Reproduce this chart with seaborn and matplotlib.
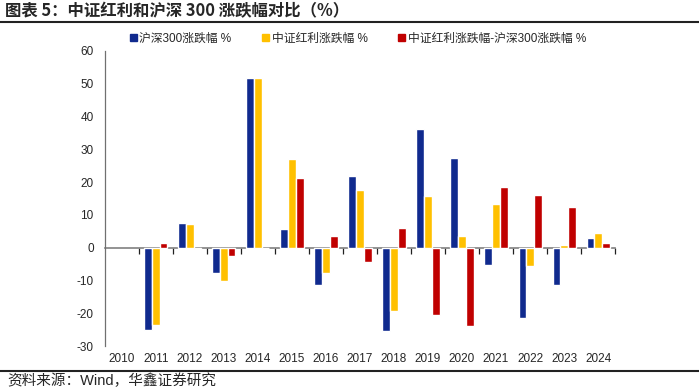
"""
中证红利 vs 沪深300 annual returns, grouped bar chart
"""

import pandas as pd
import matplotlib.pyplot as plt
import seaborn as sns
from matplotlib.lines import Line2D

years = [str(y) for y in range(2010, 2025)]
data_years = years[1:]  # 2010 has no bars

hs300 = [-25.0, 7.6, -7.6, 51.7, 5.6, -11.3, 21.8, -25.4, 36.1, 27.2, -5.2, -21.6, -11.4, 3.1]
csi_div = [-23.6, 7.1, -10.2, 51.7, 26.9, -7.6, 17.6, -19.3, 15.8, 3.5, 13.4, -5.5, 0.9, 4.6]
diff = [1.4, -0.5, -2.4, 0.0, 21.3, 3.7, -4.3, 6.0, -20.4, -23.8, 18.6, 16.2, 12.4, 1.4]

series_names = ['沪深300涨跌幅 %', '中证红利涨跌幅 %', '中证红利涨跌幅-沪深300涨跌幅 %']
colors = ['#102A8E', '#FFC000', '#C00000']

title = '图表 5：中证红利和沪深 300 涨跌幅对比（%）'
source = '资料来源：Wind，华鑫证券研究'

df = pd.DataFrame({
    'year': data_years * 3,
    'value': hs300 + csi_div + diff,
    'series': [s for s in series_names for _ in data_years],
})

sns.set_style('white')
plt.rcParams['font.family'] = ['Liberation Sans', 'Noto Sans CJK SC', 'DejaVu Sans']
plt.rcParams['axes.unicode_minus'] = False

fig = plt.figure(figsize=(6.99, 3.89), dpi=100)
ax = fig.add_axes([0.150, 0.1105, 0.730, 0.7585])

sns.barplot(data=df, x='year', y='value', hue='series', order=years,
            hue_order=series_names, palette=colors, width=0.68,
            saturation=1, ax=ax, legend=False)

ax.set_xlim(-0.5, len(years) - 0.5)
ax.set_ylim(-30, 60)
ax.set_yticks(range(-30, 61, 10))
ax.set_xlabel('')
ax.set_ylabel('')

for side in ['top', 'right', 'bottom']:
    ax.spines[side].set_visible(False)
ax.spines['left'].set_color('#707070')
ax.spines['left'].set_linewidth(0.9)
ax.tick_params(axis='y', direction='out', length=4, width=0.9, color='#404040',
               labelsize=8.5, pad=4)
ax.tick_params(axis='x', length=0, labelsize=8.5, pad=5)

# zero line with category-boundary ticks
y0 = (0 - ax.get_ylim()[0]) / (ax.get_ylim()[1] - ax.get_ylim()[0])
zero_ax = ax.secondary_xaxis(y0)
zero_ax.set_xticks([i + 0.5 for i in range(len(years))])
zero_ax.tick_params(direction='out', length=4, width=0.9, color='#202020', labelbottom=False)
zero_ax.spines['bottom'].set_color('#808080')
zero_ax.spines['bottom'].set_linewidth(1.2)

handles = [plt.Rectangle((0, 0), 1, 1, color=c) for c in colors]
fig.legend(handles, series_names, loc='center', bbox_to_anchor=(0.512, 0.9),
           ncol=3, frameon=False, fontsize=8.5, handlelength=0.6, handleheight=0.6,
           handletextpad=0.2, columnspacing=2.6)

fig.text(0.007, 0.972, title, fontsize=11.8, fontweight='bold', va='center', ha='left',
         family=['Noto Sans CJK SC', 'DejaVu Sans'])
fig.add_artist(Line2D([0, 1], [0.944, 0.944], color='#222222', linewidth=1.5))
fig.add_artist(Line2D([0, 1], [0.046, 0.046], color='#222222', linewidth=1.5))
fig.text(0.01, 0.02, source, fontsize=10.5, va='center', ha='left')

fig.savefig('out.png', dpi=100)
